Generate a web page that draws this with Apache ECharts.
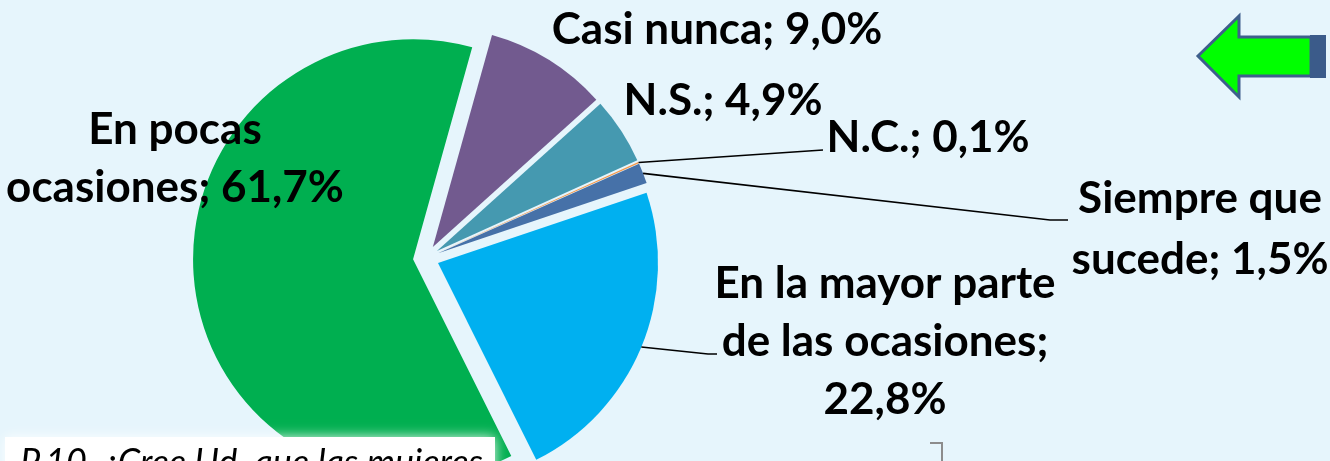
<!DOCTYPE html>
<html>
<head>
<meta charset="utf-8">
<script src="https://cdn.jsdelivr.net/npm/echarts@6/dist/echarts.min.js"></script>
<style>
html,body{margin:0;padding:0;background:#E6F5FC;}
#c{width:1330px;height:461px;}
</style>
</head>
<body>
<div id="c"></div>
<script>
// ---- data ----
const categories = ['Casi nunca', 'N.S.', 'N.C.', 'Siempre que\nsucede', 'En la mayor parte\nde las ocasiones', 'En pocas\nocasiones'];
const values = [9.0, 4.9, 0.1, 1.5, 22.8, 61.7];
const colors = ['#725A8F', '#4599B0', '#F79646', '#4671A8', '#00B0F0', '#00AF50'];
const valueSeparators = [' ', ' ', ' ', ' ', '\n', ' '];

// ---- layout (label anchor positions and leader-line ends, px) ----
const labelPos = [[717, 30], [723, 101], [928, 138], [1200, 229], [885, 342], [175, 159]];
const labelLineHeights = [58, 58, 58, 61, 58, 58];
const leaderEnds = [null, null, [[823, 150]], [[1050, 220], [1068, 220]], [[708, 354], [717, 354]], null];
const OFFSET = 13;

const chart = echarts.init(document.getElementById('c'), null, {renderer: 'canvas'});
const fmt = v => v.toFixed(1).replace('.', ',') + '%';

const option = {
  backgroundColor: '#E6F5FC',
  animation: false,
  series: [{
    type: 'pie',
    center: [426, 258],
    radius: 220,
    startAngle: 74.4,
    clockwise: true,
    selectedMode: 'multiple',
    selectedOffset: OFFSET,
    silent: true,
    emphasis: {disabled: true},
    itemStyle: {borderWidth: 0},
    label: {show: false},
    labelLine: {show: false},
    data: values.map((v, i) => ({
      name: categories[i],
      value: v,
      selected: true,
      itemStyle: {color: colors[i]}
    }))
  }],
  graphic: [
    {
      type: 'polygon', z: 100,
      shape: {points: [[1198, 56], [1239, 16], [1239, 37], [1311, 37], [1311, 76], [1239, 76], [1239, 97]]},
      style: {fill: '#00FF00', stroke: '#3E5F8C', lineWidth: 3, lineJoin: 'miter'}
    },
    {
      type: 'rect', z: 100,
      shape: {x: 5, y: 35, width: 0, height: 0},
      style: {fill: 'rgba(0,0,0,0)'}
    },
    {
      type: 'rect', z: 100,
      shape: {x: 1310, y: 35, width: 16, height: 43},
      style: {fill: '#3B5B8A'}
    },
    {
      type: 'rect', z: 100,
      shape: {x: 5, y: 437, width: 490, height: 40},
      style: {fill: '#FFFFFF', shadowBlur: 12, shadowColor: 'rgba(255,255,255,0.9)'}
    },
    {
      type: 'text', z: 101,
      x: 20, y: 445,
      style: {text: 'P.10. ¿Cree Ud. que las mujeres', fill: '#000', font: 'italic 36px Lato', verticalAlign: 'top'}
    },
    {
      type: 'polyline', z: 100,
      shape: {points: [[930, 443], [942, 443], [942, 461]]},
      style: {stroke: '#8C8C8C', lineWidth: 2, fill: null}
    }
  ]
};
chart.setOption(option);

// ---- labels and leader lines from the library's pie layout ----
const data = chart.getModel().getSeriesByIndex(0).getData();
const extra = [];
values.forEach((v, i) => {
  const lay = data.getItemLayout(i);
  const mid = (lay.startAngle + lay.endAngle) / 2;
  const ends = leaderEnds[i];
  if (ends) {
    const rr = lay.r + OFFSET;
    const start = [lay.cx + rr * Math.cos(mid), lay.cy + rr * Math.sin(mid)];
    extra.push({
      type: 'polyline', z: 10,
      shape: {points: [start].concat(ends)},
      style: {stroke: '#000', lineWidth: 1.6, fill: null}
    });
  }
  extra.push({
    type: 'text', z: 11,
    x: labelPos[i][0], y: labelPos[i][1],
    style: {
      text: categories[i] + ';' + valueSeparators[i] + fmt(v),
      fill: '#000',
      font: 'bold 44px Lato',
      lineHeight: labelLineHeights[i],
      align: 'center',
      verticalAlign: 'middle'
    }
  });
});
chart.setOption({graphic: option.graphic.concat(extra)});
</script>
</body>
</html>
